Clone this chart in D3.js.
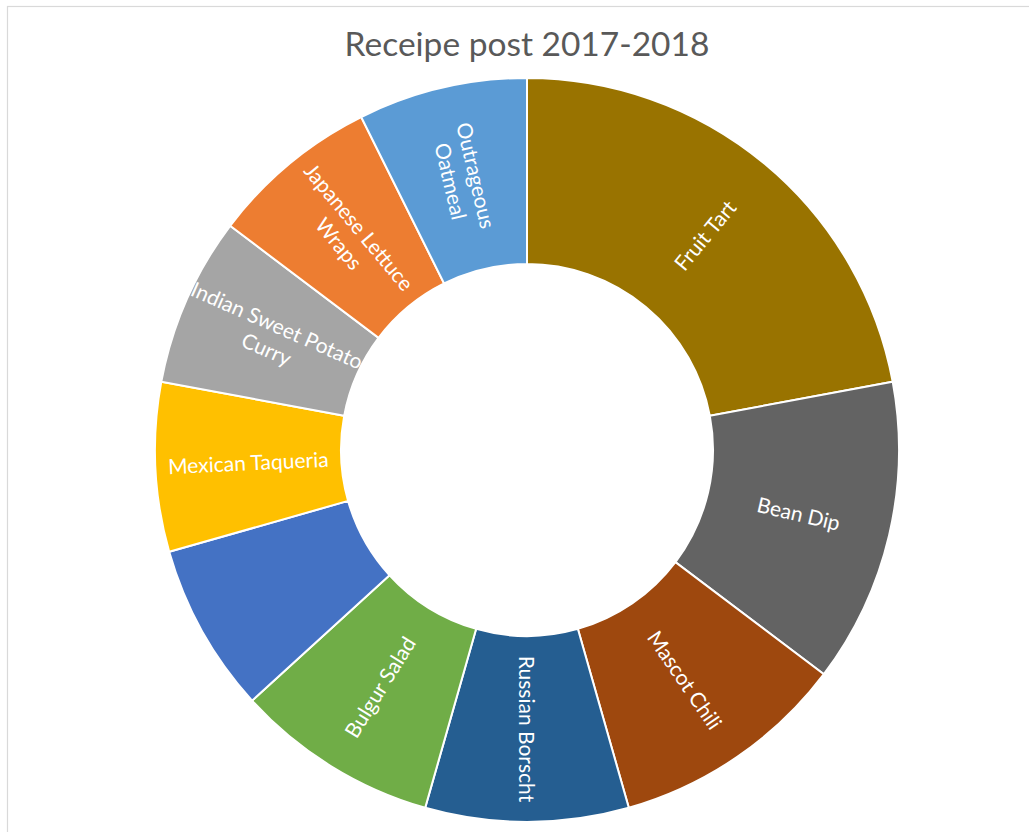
<!DOCTYPE html>
<html>
<head>
<meta charset="utf-8">
<script src="https://cdn.jsdelivr.net/npm/d3@7"></script>
<style>
  html, body { margin: 0; padding: 0; background: #ffffff; }
  svg { display: block; }
</style>
</head>
<body>
<svg id="chart" width="1029" height="832"></svg>
<script>
// Recipe posts per dish, listed clockwise from 12 o'clock
const categories = [
  "Fruit Tart", "Bean Dip", "Mascot Chili", "Russian Borscht", "Bulgur Salad",
  "", "Mexican Taqueria", "Indian Sweet Potato Curry", "Japanese Lettuce Wraps", "Outrageous Oatmeal"
];
const posts = [15, 9, 7, 6, 6, 5, 5, 5, 5, 5];
const sliceColors = [
  "#997300", "#636363", "#9E480E", "#255E91", "#70AD47",
  "#4472C4", "#FFC000", "#A5A5A5", "#ED7D31", "#5B9BD5"
];
// How each data label wraps inside its slice
const labelLines = [
  ["Fruit Tart"], ["Bean Dip"], ["Mascot Chili"], ["Russian Borscht"], ["Bulgur Salad"],
  [], ["Mexican Taqueria"], ["Indian Sweet Potato", "Curry"], ["Japanese Lettuce", "Wraps"], ["Outrageous", "Oatmeal"]
];
const chartTitle = "Receipe post 2017-2018";

const svg = d3.select("#chart");
const W = 1029, H = 832;
const cx = 527, cy = 450;
const outerR = 372, innerR = 186;

// chart area frame
svg.append("rect")
  .attr("x", 7.5).attr("y", 6.5)
  .attr("width", W + 10).attr("height", H + 10)
  .attr("fill", "#ffffff")
  .attr("stroke", "#d9d9d9")
  .attr("stroke-width", 1.2);

svg.append("text")
  .attr("x", cx).attr("y", 56)
  .attr("text-anchor", "middle")
  .attr("font-family", "Lato, 'Open Sans', sans-serif")
  .attr("font-size", 33.5)
  .attr("fill", "#595959")
  .text(chartTitle);

const data = categories.map((c, i) => ({ name: c, value: posts[i], color: sliceColors[i], lines: labelLines[i] }));

const pie = d3.pie().sort(null).value(d => d.value).startAngle(0).endAngle(2 * Math.PI);
const arc = d3.arc().innerRadius(innerR).outerRadius(outerR);
const arcs = pie(data);

const g = svg.append("g").attr("transform", `translate(${cx},${cy})`);

g.selectAll("path.slice")
  .data(arcs)
  .join("path")
  .attr("class", "slice")
  .attr("d", arc)
  .attr("fill", d => d.data.color)
  .attr("stroke", "#ffffff")
  .attr("stroke-width", 2);

// radial data labels, flipped on the left half so they stay readable
const lineH = 26;
const labels = g.selectAll("text.label")
  .data(arcs.filter(d => d.data.lines.length))
  .join("text")
  .attr("class", "label")
  .attr("font-family", "Lato, 'Open Sans', sans-serif")
  .attr("font-size", 21)
  .attr("fill", "#ffffff")
  .attr("text-anchor", "middle")
  .attr("transform", d => {
    const [x, y] = arc.centroid(d);
    const mid = (d.startAngle + d.endAngle) / 2 * 180 / Math.PI;
    let rot = mid - 90;
    if (mid > 180.5) rot -= 180;
    return `translate(${x},${y}) rotate(${rot})`;
  });

labels.each(function(d) {
  const n = d.data.lines.length;
  d3.select(this).selectAll("tspan")
    .data(d.data.lines)
    .join("tspan")
    .attr("x", 0)
    .attr("y", (t, i) => (i - (n - 1) / 2) * lineH)
    .attr("dy", "0.36em")
    .text(t => t);
});
</script>
</body>
</html>
